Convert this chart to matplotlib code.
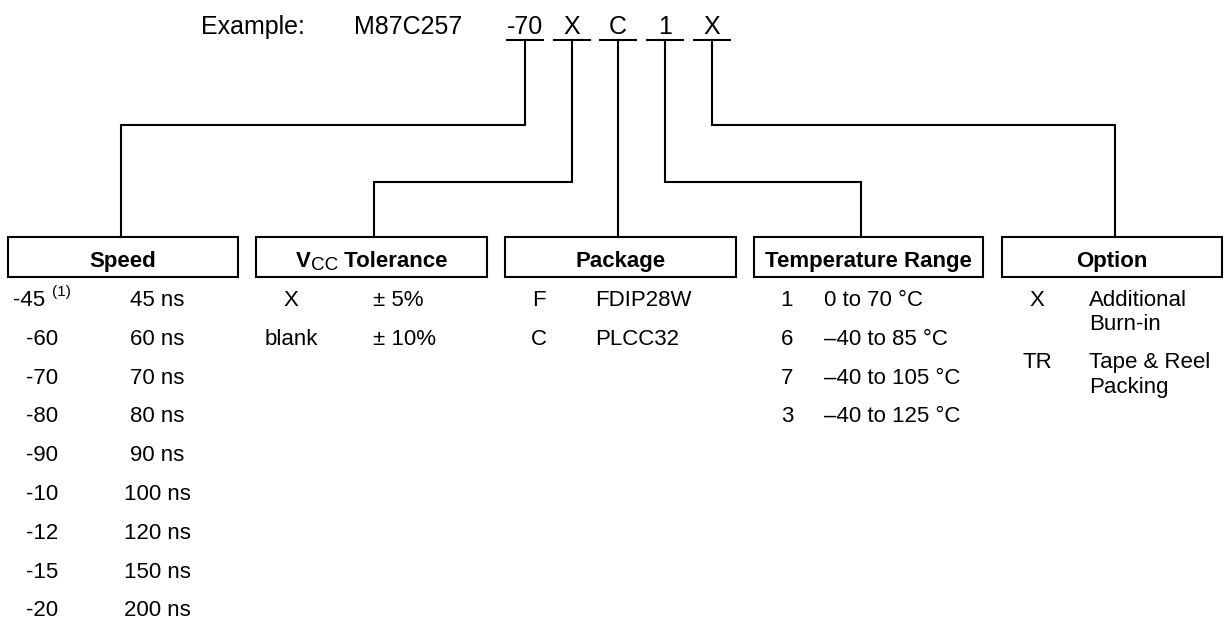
import matplotlib
matplotlib.use("Agg")
import matplotlib.pyplot as plt
from matplotlib.patches import Rectangle

plt.rcParams['font.family'] = ['Liberation Sans', 'DejaVu Sans']

# ---- content -------------------------------------------------------------
example_label = "Example:"
part_base = "M87C257"
part_fields = ["-70", "X", "C", "1", "X"]

headers = ["Speed", "VCC Tolerance", "Package", "Temperature Range", "Option"]

speed_codes = ["-45", "-60", "-70", "-80", "-90", "-10", "-12", "-15", "-20"]
speed_notes = ["(1)", "", "", "", "", "", "", "", ""]
speed_values = ["45 ns", "60 ns", "70 ns", "80 ns", "90 ns",
                "100 ns", "120 ns", "150 ns", "200 ns"]

vcc_codes = ["X", "blank"]
vcc_values = ["\u00b1 5%", "\u00b1 10%"]

package_codes = ["F", "C"]
package_names = ["FDIP28W", "PLCC32"]

temp_codes = ["1", "6", "7", "3"]
temp_ranges = ["0 to 70 \u00b0C", "\u201340 to 85 \u00b0C",
               "\u201340 to 105 \u00b0C", "\u201340 to 125 \u00b0C"]

option_codes = ["X", "TR"]
option_lines = [["Additional", "Burn-in"], ["Tape & Reel", "Packing"]]

# ---- layout (pixel space) -------------------------------------------------
W, H = 1224, 619
field_x = [525, 572, 618, 665, 712]
underline_y = 39.5
top_base = 34
box_left = [8, 256, 505, 754, 1002]
box_right = [238, 487, 736, 983, 1222]
box_top, box_bot = 237, 277
drop_x = [121, 374, 618, 861, 1115]
elbow_y = [124.5, 181.5, None, 181.5, 124.5]
row0, row_step = 306, 38.8
LW = 1.5

fig = plt.figure(figsize=(W / 100, H / 100), dpi=100)
ax = fig.add_axes([0, 0, 1, 1])
ax.set_xlim(0, W)
ax.set_ylim(H, 0)
ax.axis('off')

body = 16
# top line
ax.text(201, top_base, example_label, fontsize=18, va='baseline', ha='left')
ax.text(354, top_base, part_base, fontsize=18, va='baseline', ha='left')
for fx, f in zip(field_x, part_fields):
    ax.text(fx, top_base, f, fontsize=18, va='baseline', ha='center')
    ax.plot([fx - 19, fx + 19], [underline_y, underline_y], color='black', lw=LW,
            solid_capstyle='butt')

# connectors
for fx, dx, ey in zip(field_x, drop_x, elbow_y):
    if ey is None:
        xs, ys = [fx, fx], [underline_y, box_top]
    else:
        xs, ys = [fx, fx, dx, dx], [underline_y, ey, ey, box_top]
    ax.plot(xs, ys, color='black', lw=LW, solid_joinstyle='miter')

# boxes and headers
for i, (l, r) in enumerate(zip(box_left, box_right)):
    ax.add_patch(Rectangle((l, box_top), r - l, box_bot - box_top, fill=False,
                           edgecolor='black', lw=LW, joinstyle='miter'))
    cx = (l + r) / 2
    if i == 1:
        # V bold, CC subscript regular, Tolerance bold
        renderer = fig.canvas.get_renderer()
        parts = [("V", 'bold', body, 0), ("CC", 'normal', body * 0.85, 3.5),
                 (" Tolerance", 'bold', body, 0)]
        objs = []
        for s, wgt, fs, dy in parts:
            t = ax.text(0, 267 + dy, s, fontsize=fs, fontweight=wgt,
                        va='baseline', ha='left')
            objs.append(t)
        widths = [t.get_window_extent(renderer).width for t in objs]
        x = cx - sum(widths) / 2
        for t, w in zip(objs, widths):
            t.set_x(x)
            x += w
    else:
        ax.text(cx, 267, headers[i], fontsize=body, fontweight='bold',
                va='baseline', ha='center')


def row_y(i):
    return row0 + row_step * i


# speed column
for i, (c, n, v) in enumerate(zip(speed_codes, speed_notes, speed_values)):
    y = row_y(i)
    if n:
        ax.text(45, y, c, fontsize=body, va='baseline', ha='right')
        ax.text(52, y - 10, n, fontsize=11, va='baseline', ha='left')
    else:
        ax.text(42, y, c, fontsize=body, va='baseline', ha='center')
    ax.text(157.5, y, v, fontsize=body, va='baseline', ha='center')

# vcc column
for i, (c, v) in enumerate(zip(vcc_codes, vcc_values)):
    y = row_y(i)
    ax.text(291, y, c, fontsize=body, va='baseline', ha='center')
    ax.text(373, y, v, fontsize=body, va='baseline', ha='left')

# package column
for i, (c, v) in enumerate(zip(package_codes, package_names)):
    y = row_y(i)
    ax.text(539, y, c, fontsize=body, va='baseline', ha='center')
    ax.text(595, y, v, fontsize=body, va='baseline', ha='left')

# temperature column
for i, (c, v) in enumerate(zip(temp_codes, temp_ranges)):
    y = row_y(i)
    ax.text(787, y, c, fontsize=body, va='baseline', ha='center')
    ax.text(824, y, v, fontsize=body, va='baseline', ha='left')

# option column
for i, (c, lines) in enumerate(zip(option_codes, option_lines)):
    y = row0 + 62 * i
    ax.text(1037, y, c, fontsize=body, va='baseline', ha='center')
    for k, ln in enumerate(lines):
        ax.text(1089, y + 24.5 * k, ln, fontsize=body, va='baseline', ha='left')

fig.savefig("out.png", dpi=100, facecolor='white')
